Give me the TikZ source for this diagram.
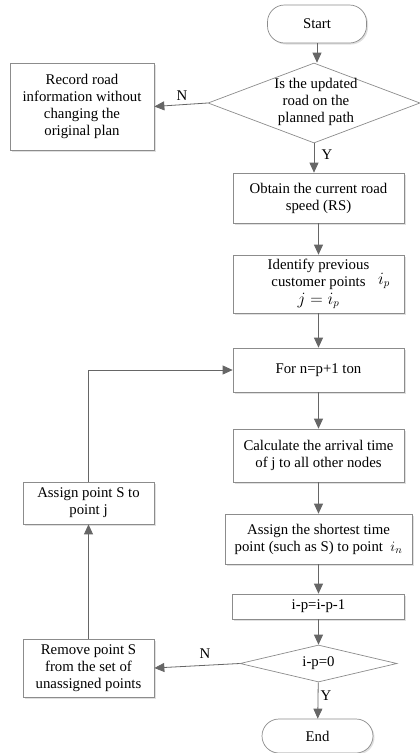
\documentclass[tikz,border=0pt]{standalone}
\usepackage{fontspec}
\setmainfont{Liberation Serif}
\usetikzlibrary{arrows.meta,shapes.geometric,shadows}
\begin{document}
\begin{tikzpicture}[x=1pt,y=-1pt,
  every node/.style={font=\fontsize{14.8}{17}\selectfont},
  box/.style={draw=black!45, line width=0.7pt, fill=white, align=center, inner sep=0pt,
    drop shadow={shadow xshift=1.5pt, shadow yshift=-1.5pt, fill=black!12, opacity=1}},
  term/.style={box, rounded corners=17pt},
  dia/.style={diamond, draw=black!45, line width=0.7pt, fill=white, inner sep=0pt},
  arr/.style={draw=black!55, line width=0.8pt, -{Triangle[length=10pt,width=9pt]}, color=black!60},
  lbl/.style={inner sep=0pt}
]
\useasboundingbox (0,0) rectangle (420,753);

\node[term, minimum width=99pt, minimum height=38pt] (start) at (317,24) {Start};
\node[dia, minimum width=212pt, minimum height=80pt] (d1) at (314,103) {};
\node[align=center, inner sep=0pt] (d1t) at (316,102) {Is the updated\\road on the\\planned path};
\node[box, minimum width=144pt, minimum height=87pt] (rec) at (82,106.5) {Record road\\information without\\changing the\\original plan};
\node[box, minimum width=171pt, minimum height=50pt] (obt) at (318.5,198) {Obtain the current road\\speed (RS)};
\node[box, minimum width=171pt, minimum height=58pt] (idf) at (318.5,284) {Identify previous\\customer points\\[1pt]{\fontsize{16}{16}\selectfont$j=i_p$}};
\node[lbl] (ipx) at (384,281) {\fontsize{16}{16}\selectfont$i_p$};
\node[box, minimum width=171pt, minimum height=44pt] (for) at (318.5,370) {For n=p+1 ton};
\node[box, minimum width=171pt, minimum height=53pt] (calc) at (318.5,455.5) {Calculate the arrival time\\of j to all other nodes};
\node[box, minimum width=187pt, minimum height=50pt] (asg) at (318.5,539) {Assign the shortest time\\point (such as S) to point \ {\fontsize{15}{15}\selectfont$i_n$}};
\node[box, minimum width=172pt, minimum height=25pt] (dec) at (318.5,606.5) {i-p=i-p-1};
\node[dia, minimum width=157pt, minimum height=37pt] (d2) at (318.5,663.5) {};
\node[lbl] (d2t) at (318.5,663) {i-p=0};
\node[term, minimum width=111pt, minimum height=34pt] (end) at (317.5,736) {End};
\node[box, minimum width=131pt, minimum height=58pt] (rem) at (88.5,668) {Remove point S\\from the set of\\unassigned points};
\node[box, minimum width=131pt, minimum height=42pt] (asS) at (88.5,503) {Assign point S to\\point j};

\node[lbl] (n1) at (182,96) {N};
\node[lbl] (y1) at (327,155) {Y};
\node[lbl] (n2) at (205,654) {N};
\node[lbl] (y2) at (326,696) {Y};

\draw[arr] (start.south) -- (start.south |- d1.north);
\draw[arr] (d1.west) -- (rec.east);
\draw[arr] (d1.south) -- (d1.south |- obt.north);
\draw[arr] (obt) -- (idf);
\draw[arr] (idf) -- (for);
\draw[arr] (for) -- (calc);
\draw[arr] (calc) -- (asg);
\draw[arr] (asg) -- (dec);
\draw[arr] (dec) -- (d2);
\draw[arr] (d2) -- (end);
\draw[arr] (d2.west) -- (rem.east);
\draw[arr] (rem) -- (asS);
\draw[arr] (asS.north) |- (for.west);
\end{tikzpicture}
\end{document}
